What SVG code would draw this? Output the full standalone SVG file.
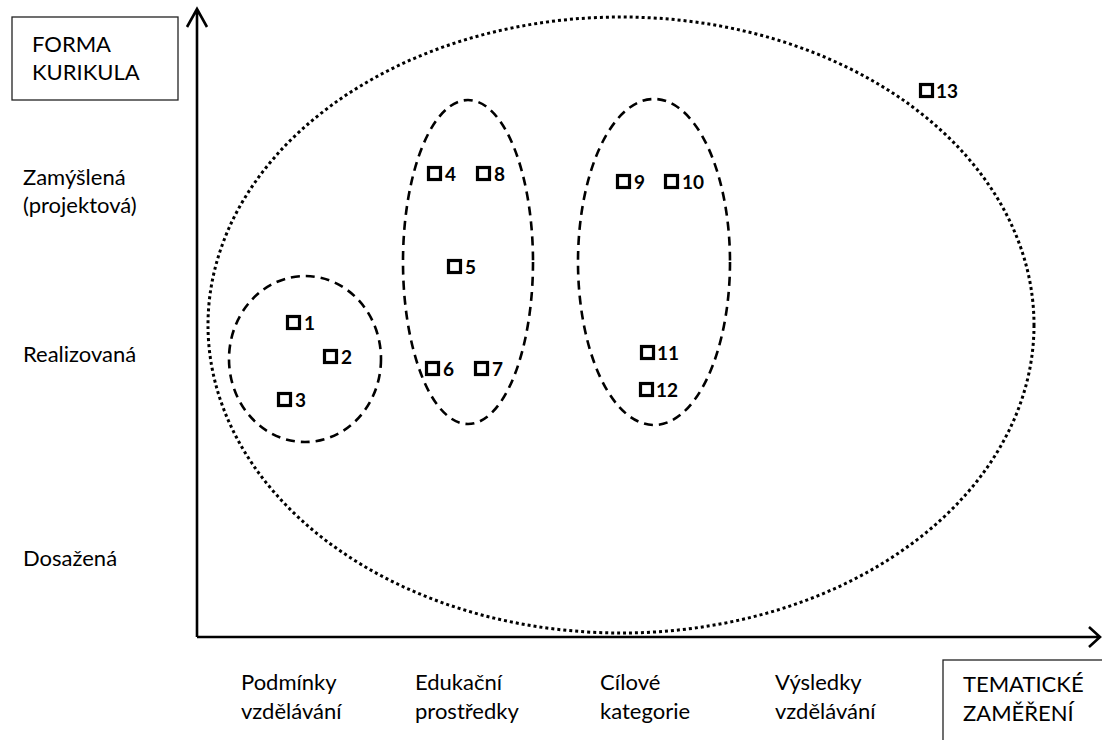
<svg xmlns="http://www.w3.org/2000/svg" width="1102" height="740" viewBox="0 0 1102 740">
<style>
.lbl{font-family:Lato,"Liberation Sans",sans-serif;font-size:22px;fill:#000}
.num{font-family:Lato,"Liberation Sans",sans-serif;font-size:19px;font-weight:bold;fill:#000}
.sq{fill:none;stroke:#000;stroke-width:3.2}
.box{fill:#fff;stroke:#222;stroke-width:1.3}
.dash{fill:none;stroke:#000;stroke-width:2.6;stroke-dasharray:9 6}
.dot{fill:none;stroke:#000;stroke-width:3;stroke-dasharray:3 3}
.axis{fill:none;stroke:#000;stroke-width:2.6}
</style>
<rect width="1102" height="740" fill="#fff"/>
<g id="connectors">
<ellipse class="dot" cx="621" cy="325" rx="413" ry="308"/>
<path class="axis" d="M197 637 V9 M187 27 L197 9 L207 27"/>
<path class="axis" d="M197 637 H1100 M1089 627 L1100 637 L1089 647"/>
</g>
<g id="group-podminky"><ellipse class="dash" cx="305" cy="359" rx="76" ry="83"/></g>
<g id="group-edukacni"><ellipse class="dash" cx="468" cy="262" rx="65" ry="162"/></g>
<g id="group-cilove"><ellipse class="dash" cx="654" cy="262" rx="76" ry="163"/></g>
<g id="axis-y-title"><rect class="box" x="12" y="17" width="166" height="83"/>
<text class="lbl" x="32" y="52">FORMA</text><text class="lbl" x="32" y="80">KURIKULA</text></g>
<g id="axis-x-title"><rect class="box" x="943" y="660" width="200" height="100"/>
<text class="lbl" x="963" y="692">TEMATICKÉ</text><text class="lbl" x="963" y="721">ZAMĚŘENÍ</text></g>
<g id="y-labels">
<text class="lbl" x="23" y="185">Zamýšlená</text>
<text class="lbl" x="23" y="213">(projektová)</text>
<text class="lbl" x="23" y="362">Realizovaná</text>
<text class="lbl" x="23" y="566">Dosažená</text>
</g>
<g id="x-labels">
<text class="lbl" x="241" y="690">Podmínky</text><text class="lbl" x="241" y="719">vzdělávání</text>
<text class="lbl" x="415" y="690">Edukační</text><text class="lbl" x="415" y="719">prostředky</text>
<text class="lbl" x="600" y="690">Cílové</text><text class="lbl" x="600" y="719">kategorie</text>
<text class="lbl" x="775" y="690">Výsledky</text><text class="lbl" x="775" y="719">vzdělávání</text>
</g>
<g id="n1"><rect class="sq" x="287.5" y="316.5" width="12" height="12"/><text class="num" x="304" y="330">1</text></g>
<g id="n2"><rect class="sq" x="324.5" y="350.5" width="12" height="12"/><text class="num" x="341" y="364">2</text></g>
<g id="n3"><rect class="sq" x="278.5" y="393.5" width="12" height="12"/><text class="num" x="295" y="407">3</text></g>
<g id="n4"><rect class="sq" x="428.5" y="167.5" width="12" height="12"/><text class="num" x="445" y="181">4</text></g>
<g id="n5"><rect class="sq" x="448.5" y="260.5" width="12" height="12"/><text class="num" x="465" y="274">5</text></g>
<g id="n6"><rect class="sq" x="426.5" y="362.5" width="12" height="12"/><text class="num" x="443" y="376">6</text></g>
<g id="n7"><rect class="sq" x="475.5" y="362.5" width="12" height="12"/><text class="num" x="492" y="376">7</text></g>
<g id="n8"><rect class="sq" x="477.5" y="167.5" width="12" height="12"/><text class="num" x="494" y="181">8</text></g>
<g id="n9"><rect class="sq" x="617.5" y="175.5" width="12" height="12"/><text class="num" x="634" y="189">9</text></g>
<g id="n10"><rect class="sq" x="665.5" y="175.5" width="12" height="12"/><text class="num" x="682" y="189">10</text></g>
<g id="n11"><rect class="sq" x="641.5" y="346.5" width="12" height="12"/><text class="num" x="657" y="360">11</text></g>
<g id="n12"><rect class="sq" x="640.5" y="383.5" width="12" height="12"/><text class="num" x="656" y="397">12</text></g>
<g id="n13"><rect class="sq" x="920.5" y="84.5" width="12" height="12"/><text class="num" x="936" y="98">13</text></g>
</svg>
